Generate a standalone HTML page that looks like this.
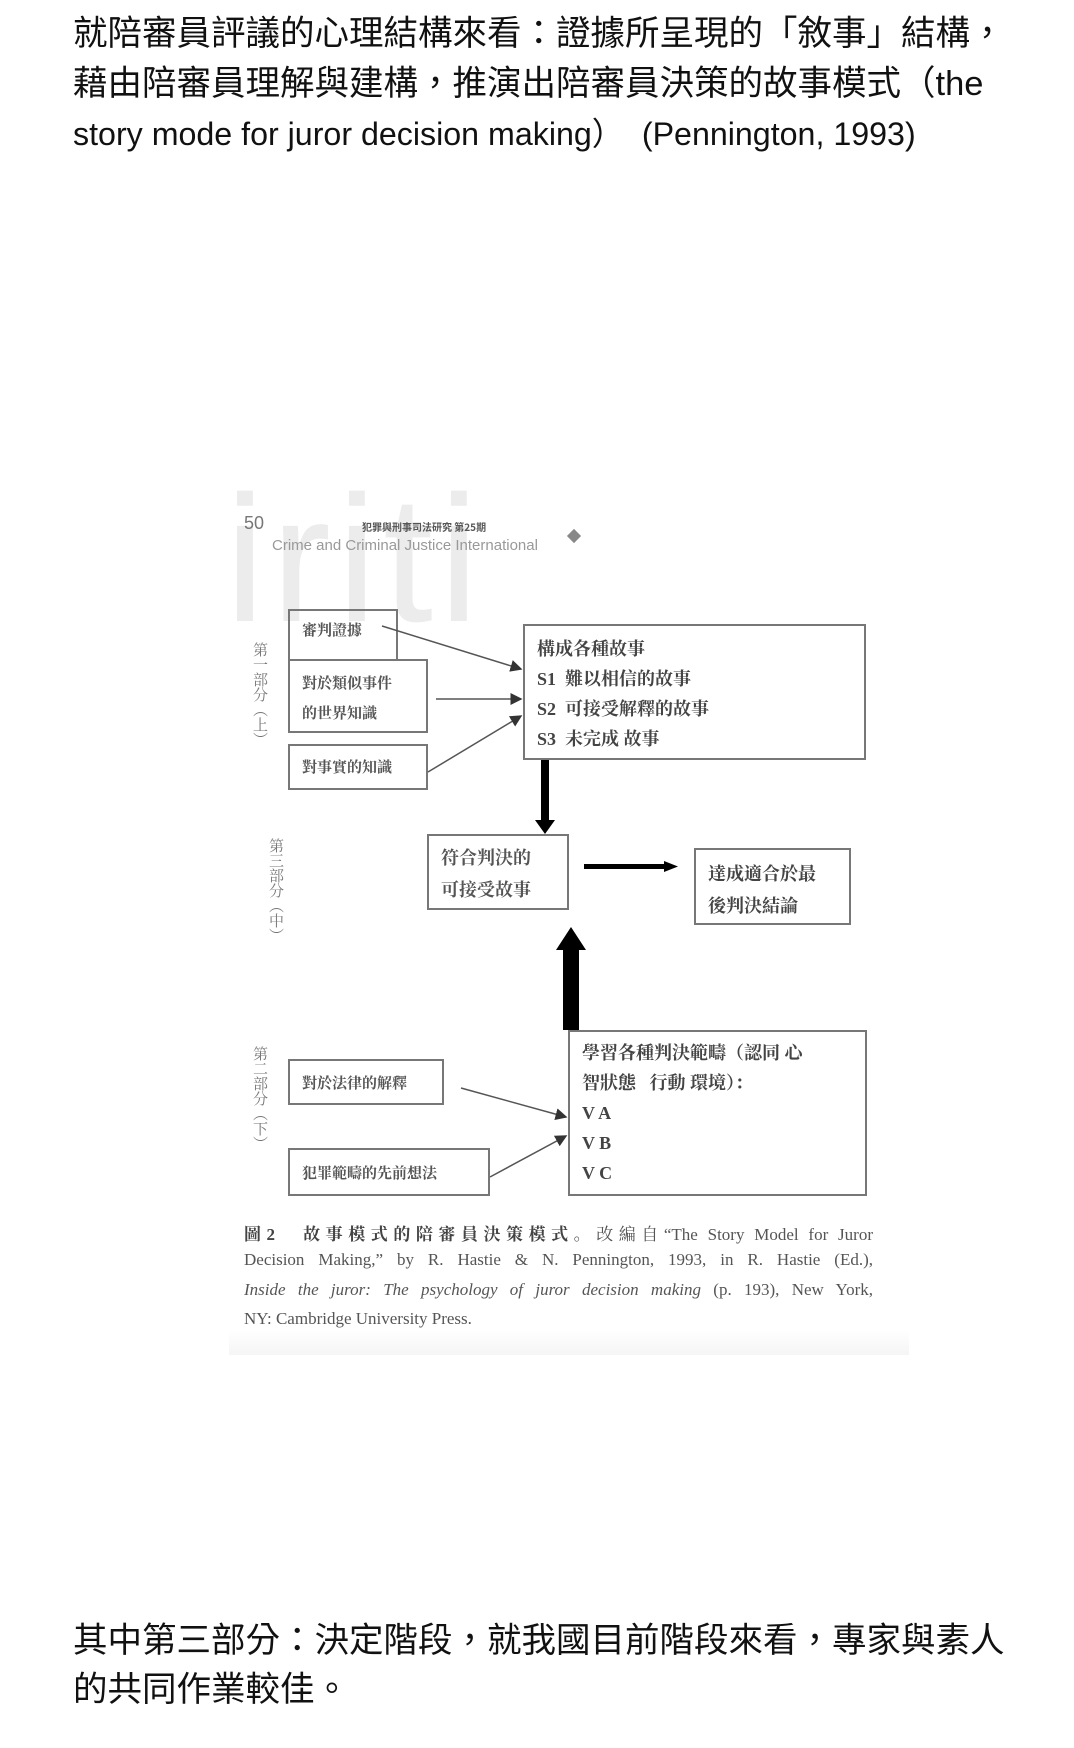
<!DOCTYPE html>
<html><head><meta charset="utf-8"><style>
body{margin:0;width:1074px;height:1748px;background:#fff;position:relative;overflow:hidden;font-family:"Liberation Sans","Noto Sans CJK TC",sans-serif;}
.t{position:absolute;left:73px;font-size:34.5px;color:#111;white-space:nowrap;line-height:50px;}
.a{position:absolute;white-space:nowrap;}
.box{position:absolute;border:2px solid #777;box-sizing:border-box;font-family:"Liberation Serif","Noto Serif CJK SC",serif;color:#555;font-weight:bold;font-size:15px;}
.vl{position:absolute;writing-mode:vertical-rl;font-family:"Noto Serif CJK SC",serif;font-size:15px;color:#777;}
.cap{position:absolute;left:244px;width:629px;font-family:"Liberation Serif","Noto Serif CJK SC",serif;font-size:17px;color:#555;text-align:justify;text-align-last:justify;white-space:nowrap;}
</style></head><body>
<div class="t" style="top:9px">就陪審員評議的心理結構來看：證據所呈現的「敘事」結構，</div>
<div class="t" style="top:59px">藉由陪審員理解與建構，推演出陪審員決策的故事模式（the</div>
<div class="t" style="top:109px;font-size:32.2px;">story mode for juror decision making）&nbsp;&nbsp;(Pennington, 1993)</div>

<div class="a" style="left:225px;top:470px;font-size:180px;color:#ececec;font-family:'Liberation Sans',sans-serif;letter-spacing:6px;line-height:180px;">iriti</div>
<div class="a" style="left:244px;top:513px;font-size:18px;color:#777;">50</div>
<div class="a" style="left:362px;top:519px;font-size:10px;color:#555;font-weight:bold;font-family:'Noto Sans CJK TC',sans-serif;">犯罪與刑事司法研究 第25期</div>
<div class="a" style="left:272px;top:537px;font-size:15px;color:#999;">Crime and Criminal Justice International</div>
<div class="a" style="left:569px;top:531px;width:10px;height:10px;background:#888;transform:rotate(45deg);"></div>

<div class="box" style="left:288px;top:609px;width:110px;height:52px;padding:8px 0 0 12px;">審判證據</div>
<div class="box" style="left:288px;top:659px;width:140px;height:74px;padding:8px 0 0 12px;line-height:30px;">對於類似事件<br>的世界知識</div>
<div class="box" style="left:288px;top:744px;width:140px;height:46px;padding:10px 0 0 12px;">對事實的知識</div>
<div class="box" style="left:523px;top:624px;width:343px;height:136px;padding:8px 0 0 12px;font-size:18px;line-height:30px;color:#444;">構成各種故事<br>S1&nbsp; 難以相信的故事<br>S2&nbsp; 可接受解釋的故事<br>S3&nbsp; 未完成 故事</div>
<div class="box" style="left:427px;top:834px;width:142px;height:76px;padding:6px 0 0 12px;font-size:18px;line-height:32px;">符合判決的<br>可接受故事</div>
<div class="box" style="left:694px;top:848px;width:157px;height:77px;padding:8px 0 0 12px;font-size:18px;line-height:32px;color:#444;">達成適合於最<br>後判決結論</div>
<div class="box" style="left:568px;top:1030px;width:299px;height:166px;padding:6px 0 0 12px;font-size:18px;line-height:30px;color:#444;">學習各種判決範疇（認同 心<br>智狀態&nbsp;&nbsp; 行動 環境）：<br>V A<br>V B<br>V C</div>
<div class="box" style="left:288px;top:1059px;width:156px;height:46px;padding:11px 0 0 12px;">對於法律的解釋</div>
<div class="box" style="left:288px;top:1148px;width:202px;height:48px;padding:12px 0 0 12px;">犯罪範疇的先前想法</div>

<div class="vl" style="left:250px;top:642px;">第一部分（上）</div>
<div class="vl" style="left:266px;top:838px;">第三部分（中）</div>
<div class="vl" style="left:250px;top:1046px;">第二部分（下）</div>

<svg width="1074" height="1748" style="position:absolute;left:0;top:0">
<defs><marker id="m" markerWidth="8" markerHeight="8" refX="7" refY="4" orient="auto"><path d="M0,0 L8,4 L0,8z" fill="#333"/></marker></defs>
<g stroke="#555" stroke-width="1.5" fill="none">
<line x1="382" y1="626" x2="521" y2="669" marker-end="url(#m)"/>
<line x1="436" y1="699" x2="521" y2="699" marker-end="url(#m)"/>
<line x1="428" y1="772" x2="521" y2="716" marker-end="url(#m)"/>
<line x1="461" y1="1088" x2="566" y2="1117" marker-end="url(#m)"/>
<line x1="490" y1="1177" x2="566" y2="1136" marker-end="url(#m)"/>
</g>
<rect x="541" y="760" width="8" height="62" fill="#000"/>
<path d="M535,820 L555,820 L545,834z" fill="#000"/>
<rect x="584" y="864" width="82" height="5" fill="#000"/>
<path d="M664,861 L678,866.5 L664,872z" fill="#000"/>
<rect x="563" y="947" width="16" height="83" fill="#000"/>
<path d="M556,950 L586,950 L571,927z" fill="#000"/>
</svg>

<div class="cap" style="top:1220px;"><b style="color:#444">圖2　故事模式的陪審員決策模式</b>。改編自“The Story Model for Juror</div>
<div class="cap" style="top:1250px;">Decision Making,” by R. Hastie &amp; N. Pennington, 1993, in R. Hastie (Ed.),</div>
<div class="cap" style="top:1280px;"><i>Inside the juror: The psychology of juror decision making</i> (p. 193), New York,</div>
<div class="cap" style="top:1309px;text-align-last:left;">NY: Cambridge University Press.</div>
<div class="a" style="left:229px;top:1330px;width:680px;height:25px;background:linear-gradient(#fff,#f5f5f5);"></div>

<div class="t" style="top:1616px">其中第三部分：決定階段，就我國目前階段來看，專家與素人</div>
<div class="t" style="top:1665px">的共同作業較佳。</div>
</body></html>
